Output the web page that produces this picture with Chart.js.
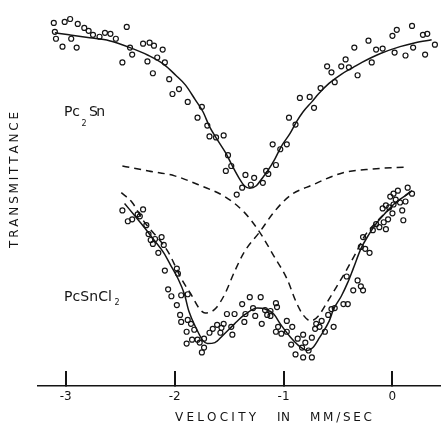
<!DOCTYPE html>
<html>
<head>
<meta charset="utf-8">
<script src="https://cdn.jsdelivr.net/npm/chart.js@4"></script>
<style>
  html, body { margin: 0; padding: 0; background: #fff; }
  canvas { display: block; }
</style>
</head>
<body>
<canvas id="spectrum" width="445" height="428"></canvas>
<script>
"use strict";
// Mossbauer spectra, velocity in mm/sec, transmittance in arbitrary units
const velocityTicks = [-3, -2, -1, 0];

// Pc2Sn measured points
const pc2snVel = [-3.11, -3.01, -2.96, -2.89, -2.83, -2.79, -2.75, -2.69, -2.64, -2.59, -2.54, -3.09, -3.03, -2.95, -2.90,
    -2.44, -2.48, -2.41, -2.39, -2.29, -2.23, -2.19, -2.25, -2.20, -2.16, -2.11, -2.09, -2.05, -2.02, -1.96, -1.88,
    -1.79, -1.75, -1.70, -1.68, -1.62, -1.55, -1.51, -1.48, -1.53, -1.43, -1.38, -1.35, -1.30, -1.27, -1.19, -1.16,
    -1.14, -1.07, -1.10, -1.03, -0.97, -0.95, -0.89, -0.85, -0.76, -0.72, -0.66, -0.60, -0.56, -0.53, -0.47, -0.43,
    -0.40, -0.35, -0.32, -0.22, -0.19, -0.15, -0.09, 0.00, 0.04, 0.02, 0.12, 0.18, 0.19, 0.28, 0.32, 0.30, 0.39, -3.10];
const pc2snT = [369, 370, 373, 368, 364, 361, 357, 355, 359, 358, 353, 353, 345, 353, 344,
    365, 329, 344, 337, 348, 349, 346, 330, 318, 334, 342, 329, 312, 297, 302, 289,
    273, 284, 265, 254, 253, 255, 235, 224, 219, 195, 202, 215, 205, 212, 207, 219,
    216, 225, 246, 241, 246, 273, 266, 293, 294, 283, 303, 325, 319, 309, 325, 332,
    324, 344, 316, 351, 329, 342, 343, 356, 362, 339, 336, 366, 344, 357, 358, 337, 347, 360];

// Pc2Sn fitted curve
const pc2snFitVel = [-3.10, -2.97, -2.78, -2.60, -2.41, -2.24, -2.10, -1.99, -1.90, -1.81, -1.74, -1.68, -1.61, -1.53,
    -1.47, -1.41, -1.36, -1.31, -1.25, -1.20, -1.14, -1.08, -1.02, -0.94, -0.88, -0.82, -0.74, -0.68, -0.58, -0.47,
    -0.36, -0.28, -0.11, 0.07, 0.21, 0.36];
const pc2snFitT = [359, 357, 354, 351, 344, 336, 327, 316, 306, 291, 279, 264, 251, 237,
    224, 212, 204, 201.5, 204, 211, 220, 231, 244, 257, 269, 279, 289, 297, 308, 317,
    324, 329, 338, 345, 349, 352];

// PcSnCl2 measured points
const pcsncl2Vel = [-2.48, -2.43, -2.39, -2.34, -2.32, -2.29, -2.26, -2.24, -2.22, -2.18, -2.20, -2.12, -2.10, -2.15,
    -2.09, -1.98, -1.97, -2.06, -2.03, -1.94, -1.88, -1.98, -1.95, -1.94, -1.88, -1.85, -1.89, -1.82, -1.84, -1.79,
    -1.89, -1.77, -1.73, -1.73, -1.75, -1.68, -1.65, -1.61, -1.57, -1.58, -1.55, -1.48, -1.47, -1.52, -1.45, -1.38,
    -1.36, -1.35, -1.31, -1.28, -1.26, -1.21, -1.20, -1.17, -1.15, -1.12, -1.07, -1.06, -1.12, -0.97, -0.92, -1.05,
    -1.07, -1.02, -0.97, -0.93, -0.87, -0.82, -0.83, -0.80, -0.77, -0.89, -0.82, -0.74, -0.74, -0.71, -0.70, -0.67,
    -0.65, -0.62, -0.59, -0.54, -0.56, -0.53, -0.45, -0.41, -0.42, -0.36, -0.32, -0.29, -0.27, -0.29, -0.25, -0.21,
    -0.27, -0.18, -0.15, -0.12, -0.08, -0.06, -0.09, -0.04, -0.06, -0.03, 0.00, -0.02, 0.01, 0.01, 0.03, 0.05,
    0.07, 0.09, 0.12, 0.10, 0.14, 0.18];
const pcsncl2T = [179, 168, 170, 175, 173, 180, 164, 155, 149, 150, 145, 152, 144, 136,
    118, 120, 115, 99, 92, 93, 94, 83, 73, 66, 68, 64, 56, 58, 48, 48,
    44, 45, 49, 40, 35, 55, 59, 63, 60, 55, 64, 61, 53, 74, 74, 84,
    66, 74, 91, 80, 72, 91, 64, 78, 73, 77, 85, 81, 72, 67, 61, 61,
    56, 54, 56, 43, 49, 53, 40, 45, 37, 33, 30, 30, 50, 59, 64, 61,
    67, 56, 73, 61, 79, 80, 84, 84, 112, 98, 108, 102, 98, 142, 140, 136,
    152, 159, 165, 162, 167, 160, 181, 170, 184, 182, 176, 193, 185, 196, 190, 199,
    187, 179, 188, 169, 202, 196];

// PcSnCl2 fitted doublet
const pcsncl2FitVel = [-2.46, -2.37, -2.28, -2.19, -2.10, -2.03, -1.97, -1.91, -1.87, -1.80, -1.74, -1.70, -1.63, -1.56,
    -1.45, -1.36, -1.24, -1.17, -1.09, -1.03, -0.94, -0.85, -0.78, -0.73, -0.67, -0.58, -0.54, -0.47, -0.41, -0.36,
    -0.29, -0.22, -0.14, -0.06, 0.03, 0.12, 0.18];
const pcsncl2FitT = [186, 174, 162, 149, 136, 122, 110, 94, 77, 59, 47, 44, 45, 52,
    64, 73, 80, 79, 74, 64, 51, 41, 37, 40, 50, 67, 79, 92, 106, 120,
    140, 154, 167, 177, 187, 194, 199];

// the two component lines of the doublet (dashed)
const lineAVel = [-2.49, -2.39, -2.29, -2.06, -1.94, -1.85, -1.77, -1.72, -1.67, -1.62, -1.54, -1.45, -1.36, -1.22,
    -1.09, -0.94, -0.73, -0.46, -0.18, 0.13];
const lineAT = [197, 187, 169, 137, 110, 94, 79, 75, 76, 80, 94, 117, 137, 157,
    177, 194, 205, 217, 221, 223];
const lineBVel = [-2.48, -2.24, -2.00, -1.76, -1.54, -1.36, -1.22, -1.09, -0.97, -0.88, -0.82, -0.75, -0.68, -0.61,
    -0.50, -0.43, -0.34, -0.25, -0.15, -0.03, 0.07, 0.19];
const lineBT = [224, 219, 214, 204, 193, 177, 157, 133, 110, 85, 73, 67, 72, 84,
    104, 117, 135, 154, 167, 180, 190, 200];

const ink = '#141414';
const fontFamily = '"DejaVu Sans", "Liberation Sans", sans-serif';

function toXY(xs, ys) {
    return xs.map((x, i) => ({ x: x, y: ys[i] }));
}

function pointSet(label, xs, ys) {
    return {
        type: 'scatter', label: label, data: toXY(xs, ys), order: 2,
        pointStyle: 'circle', pointRadius: 2.5, pointBorderWidth: 1.2,
        borderColor: ink, backgroundColor: 'rgba(255,255,255,0)', showLine: false
    };
}

function curveSet(label, xs, ys, dash) {
    return {
        type: 'line', label: label, data: toXY(xs, ys), order: 1,
        borderColor: ink, borderWidth: 1.5, borderDash: dash, pointRadius: 0,
        cubicInterpolationMode: 'monotone', fill: false
    };
}

// draws letters one by one so a word fills the span from x0 to x1
function spacedText(ctx, text, x0, x1, y) {
    const chars = [...text];
    const widths = chars.map(c => ctx.measureText(c).width);
    const total = widths.reduce((a, b) => a + b, 0);
    const gap = chars.length > 1 ? (x1 - x0 - total) / (chars.length - 1) : 0;
    let x = x0;
    chars.forEach((c, i) => {
        ctx.fillText(c, x, y);
        x += widths[i] + gap;
    });
}

const figureText = {
    id: 'figureText',
    beforeDraw(chart) {
        const ctx = chart.ctx;
        ctx.save();
        ctx.fillStyle = '#fff';
        ctx.fillRect(0, 0, chart.width, chart.height);
        ctx.restore();
    },
    afterDraw(chart) {
        const ctx = chart.ctx;
        ctx.save();
        ctx.fillStyle = ink;
        ctx.textAlign = 'left';
        ctx.textBaseline = 'middle';

        ctx.font = '12px ' + fontFamily;
        spacedText(ctx, 'VELOCITY', 175, 256, 418);
        spacedText(ctx, 'IN', 277, 290, 418);
        spacedText(ctx, 'MM/SEC', 310, 372, 418);

        ctx.font = '14px ' + fontFamily;
        spacedText(ctx, 'Pc', 64, 80, 112.5);
        spacedText(ctx, 'Sn', 89, 105, 112.5);
        spacedText(ctx, 'PcSnCl', 64, 112, 297);
        ctx.font = '8px ' + fontFamily;
        ctx.fillText('2', 81.5, 123.5);
        ctx.fillText('2', 114.5, 303);

        ctx.font = '12px ' + fontFamily;
        ctx.translate(15, 248);
        ctx.rotate(-Math.PI / 2);
        spacedText(ctx, 'TRANSMITTANCE', 0, 136, 0);
        ctx.restore();
    }
};

new Chart(document.getElementById('spectrum').getContext('2d'), {
    data: {
        datasets: [
            curveSet('Pc2Sn fit', pc2snFitVel, pc2snFitT, []),
            curveSet('PcSnCl2 fit', pcsncl2FitVel, pcsncl2FitT, []),
            curveSet('line A', lineAVel, lineAT, [7, 5]),
            curveSet('line B', lineBVel, lineBT, [7, 5]),
            pointSet('Pc2Sn', pc2snVel, pc2snT),
            pointSet('PcSnCl2', pcsncl2Vel, pcsncl2T)
        ]
    },
    options: {
        responsive: false,
        animation: false,
        devicePixelRatio: 1,
        clip: false,
        layout: { padding: { left: 38, right: 0, top: 0, bottom: 0 } },
        plugins: { legend: { display: false }, tooltip: { enabled: false } },
        scales: {
            x: {
                type: 'linear',
                min: -3.255,
                max: 0.435,
                afterBuildTicks: scale => { scale.ticks = velocityTicks.map(v => ({ value: v })); },
                afterFit: scale => { scale.height = 42; },
                // negative tick length turns the tick marks up into the plot
                grid: { display: true, drawOnChartArea: false, drawTicks: true, tickLength: -15, color: ink, lineWidth: 2 },
                border: { display: true, color: ink, width: 1.5 },
                ticks: {
                    padding: 19,
                    color: ink,
                    font: { family: fontFamily, size: 12 },
                    callback: v => String(v)
                }
            },
            y: { type: 'linear', display: false, min: 1, max: 387 }
        }
    },
    plugins: [figureText]
});
</script>
</body>
</html>
